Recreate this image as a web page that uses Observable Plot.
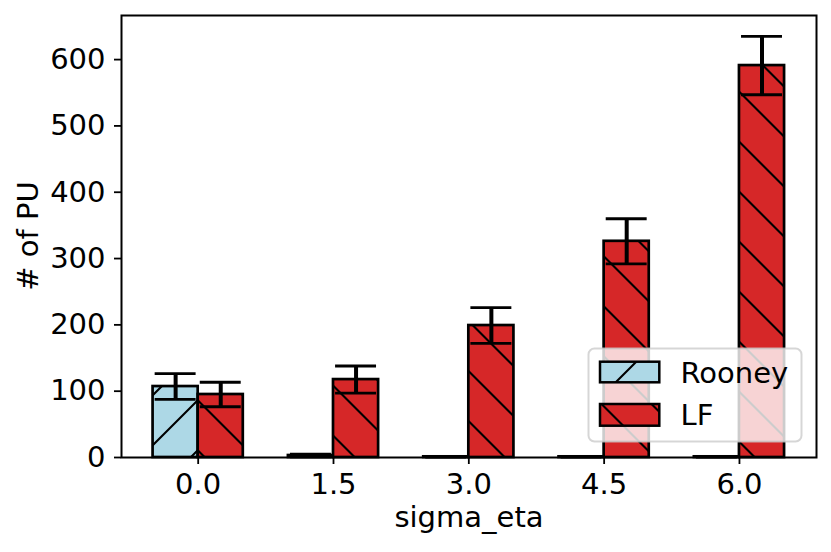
<!DOCTYPE html>
<html>
<head>
<meta charset="utf-8">
<script src="https://cdn.jsdelivr.net/npm/d3@7"></script>
<script src="https://cdn.jsdelivr.net/npm/@observablehq/plot@0.6"></script>
<style>
  html, body { margin: 0; padding: 0; background: #fff; }
  #chart svg { display: block; }
</style>
</head>
<body>
<div id="chart"></div>
<script>
// ---- data ----
const sigmaLabels = ["0.0", "1.5", "3.0", "4.5", "6.0"];
const sigmas = [0, 1.5, 3.0, 4.5, 6.0];
const seriesNames = ["Rooney", "LF"];
const rooneyMean = [107, 3, 1, 1, 1];
const rooneyErr = [19.5, 2, 0.5, 0.5, 0.5];
const lfMean = [95, 117.5, 199, 326, 591];
const lfErr = [18.5, 20.5, 27, 34, 44];
const yTicks = [0, 100, 200, 300, 400, 500, 600];

const barW = 0.5;   // bar width in sigma units
const capHalf = 0.227;

const rows = [];
sigmas.forEach((s, i) => {
  rows.push({series: "Rooney", sigma: s, x1: s - barW, x2: s, mean: rooneyMean[i], err: rooneyErr[i]});
  rows.push({series: "LF", sigma: s, x1: s, x2: s + barW, mean: lfMean[i], err: lfErr[i]});
});
rows.forEach(d => { d.cx = (d.x1 + d.x2) / 2; d.lo = Math.max(0, d.mean - d.err); d.hi = d.mean + d.err; });

const patternId = {Rooney: "hatchRooney", LF: "hatchLF"};
const FONT = "DejaVu Sans";
const FS = 29;

const chart = Plot.plot({
  width: 831,
  height: 552,
  marginLeft: 121,
  marginRight: 15,
  marginTop: 15,
  marginBottom: 95,
  style: {fontFamily: FONT, fontSize: FS + "px", color: "black", background: "white"},
  x: {type: "linear", domain: [-0.85, 6.854]},
  y: {domain: [0, 666.5]},
  marks: [
    Plot.rectY(rows, {
      x1: "x1", x2: "x2", y1: 0, y2: "mean",
      fill: d => `url(#${patternId[d.series]})`,
      stroke: "black", strokeWidth: 2.7
    }),
    Plot.ruleX(rows, {x: "cx", y1: "lo", y2: "hi", stroke: "black", strokeWidth: 4}),
    Plot.ruleY(rows, {y: "hi", x1: d => d.cx - capHalf, x2: d => d.cx + capHalf, stroke: "black", strokeWidth: 2.8}),
    Plot.ruleY(rows, {y: "lo", x1: d => d.cx - capHalf, x2: d => d.cx + capHalf, stroke: "black", strokeWidth: 2.8}),
    Plot.axisX({ticks: sigmas, tickFormat: (d) => sigmaLabels[sigmas.indexOf(d)], tickSize: 7, tickPadding: 9,
      strokeWidth: 1.8, label: null, fontSize: FS, fill: "black"}),
    Plot.axisY({ticks: yTicks, tickSize: 7, tickPadding: 9, strokeWidth: 1.8, label: null, fontSize: FS, fill: "black"}),
    Plot.frame({stroke: "black", strokeWidth: 2})
  ]
});

document.getElementById("chart").appendChild(chart);

const svg = d3.select(chart);
const defs = svg.insert("defs", ":first-child");

function makePattern(id, color, paths) {
  const p = defs.append("pattern").attr("id", id)
    .attr("patternUnits", "userSpaceOnUse").attr("width", 50).attr("height", 50);
  p.append("rect").attr("width", 50).attr("height", 50).attr("fill", color);
  p.append("path").attr("d", paths).attr("stroke", "black").attr("stroke-width", 2.1).attr("fill", "none");
}
// "/" hatch: lines x + y = 48 (mod 50)
makePattern("hatchRooney", "#add8e6", "M-10,58L58,-10M-10,108L108,-10M-10,8L8,-10");
// "\" hatch: lines y - x = 2.5 (mod 50)
makePattern("hatchLF", "#d62728", "M-10,-7.5L60,62.5M-10,42.5L60,112.5M-10,-57.5L60,12.5");

// axis labels
svg.append("text").attr("x", 469).attr("y", 526.7).attr("text-anchor", "middle")
  .attr("font-family", FONT).attr("font-size", FS).attr("fill", "black").text("sigma_eta");
svg.append("text").attr("transform", "translate(37.5,236) rotate(-90)").attr("text-anchor", "middle")
  .attr("font-family", FONT).attr("font-size", FS).attr("fill", "black").text("# of PU");

// legend
const lg = svg.append("g");
lg.append("rect").attr("x", 588.5).attr("y", 348.5).attr("width", 213).attr("height", 93).attr("rx", 6)
  .attr("fill", "white").attr("fill-opacity", 0.8).attr("stroke", "#cccccc").attr("stroke-opacity", 0.8).attr("stroke-width", 2);
const legendRows = [
  {name: seriesNames[0], y: 361.7, h: 20.6, base: 382.5},
  {name: seriesNames[1], y: 404, h: 21.7, base: 424.5}
];
legendRows.forEach(r => {
  lg.append("rect").attr("x", 600).attr("y", r.y).attr("width", 59.3).attr("height", r.h)
    .attr("fill", `url(#${patternId[r.name]})`).attr("stroke", "black").attr("stroke-width", 2.5);
  lg.append("text").attr("x", 680.5).attr("y", r.base).attr("text-anchor", "start")
    .attr("font-family", FONT).attr("font-size", FS).attr("fill", "black").text(r.name);
});
</script>
</body>
</html>
